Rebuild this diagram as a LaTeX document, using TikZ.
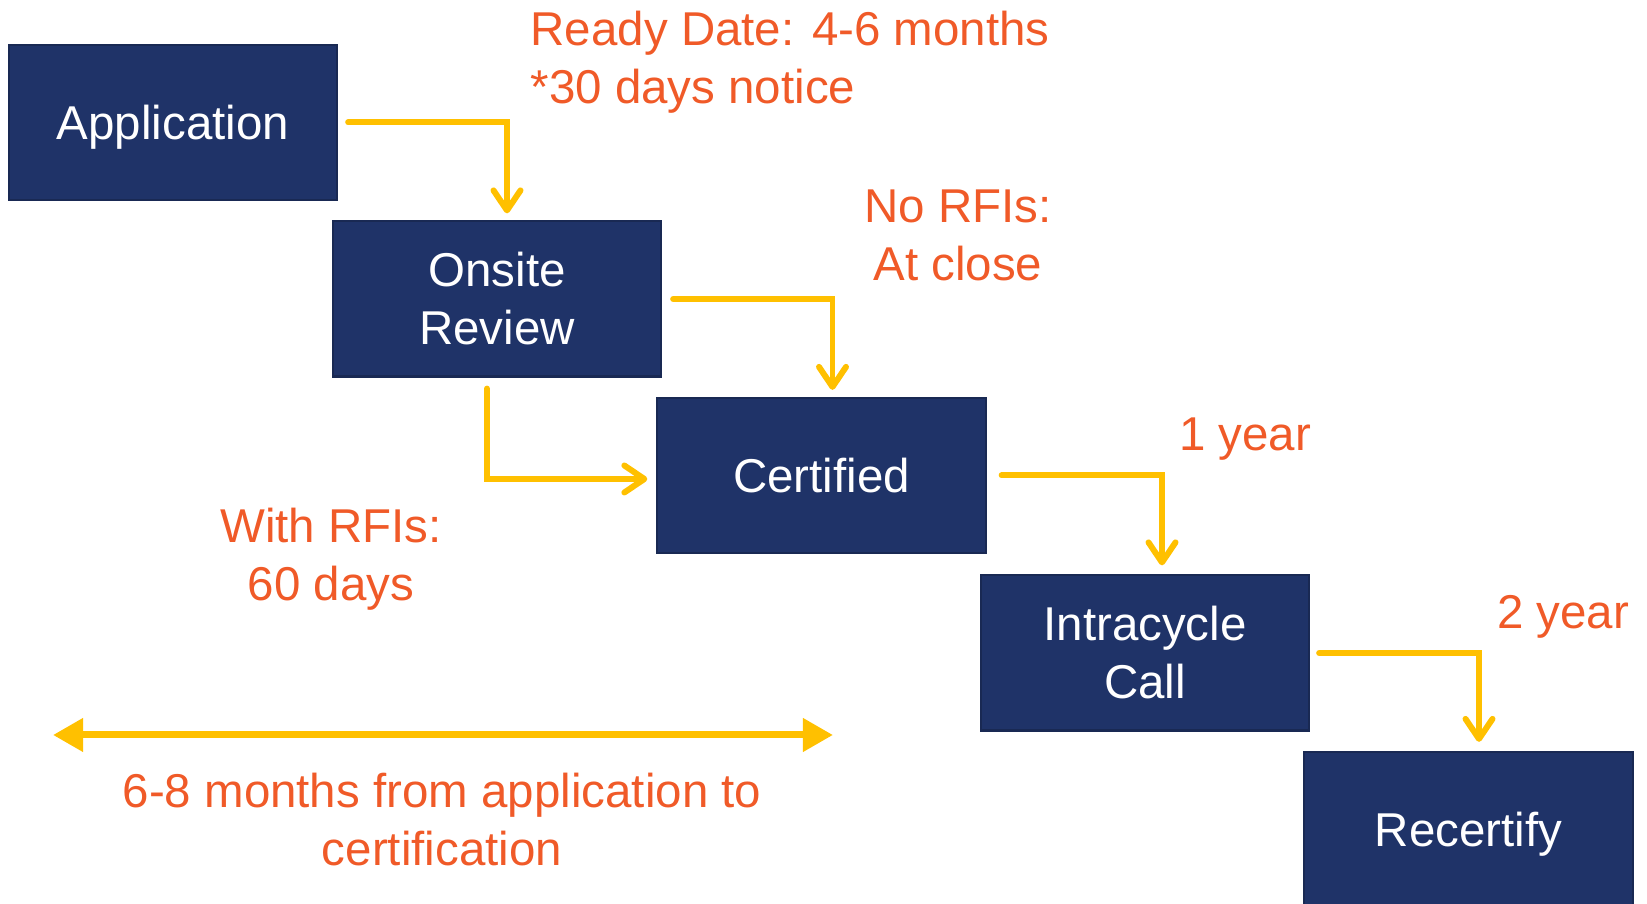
\documentclass[tikz,border=0pt]{standalone}
\usepackage{fontspec}
\setmainfont{Liberation Sans}
\usetikzlibrary{arrows.meta}
\definecolor{navy}{RGB}{31,51,104}
\definecolor{amber}{RGB}{255,192,0}
\definecolor{rust}{RGB}{240,90,40}
\tikzset{
  stage/.style     = {shape=rectangle, draw=navy!80!black, line width=0.6pt,
                      fill=navy, text=white, align=center,
                      minimum width=3.28cm, minimum height=1.55cm},
  oneline/.style   = {stage, text depth=0pt},
  note/.style      = {text=rust, inner sep=0pt},
  steparrow/.style = {draw=amber, line width=1.7pt, line cap=round,
                      -{Straight Barb[length=0.2cm, width=0.27cm, round]}},
  spanarrow/.style = {draw=amber, line width=0.07cm,
                      {Triangle[length=0.3cm, width=0.32cm]}-{Triangle[length=0.3cm, width=0.32cm]}}
}

\begin{document}
\begin{tikzpicture}
        [
            x = 0.01cm, y = -0.01cm,
            every node/.style = {font=\fontsize{13.5}{16.5}\selectfont}
        ]
    \useasboundingbox (0,0) rectangle (1647,904);

    % stages
    \node [oneline] (app)    at (173,122.5)  {Application};
    \node [stage]   (onsite) at (497,299)    {Onsite\\Review};
    \node [oneline] (cert)   at (821.5,475.5) {Certified};
    \node [stage]   (intra)  at (1145,653)   {Intracycle\\Call};
    \node [oneline] (recert) at (1468.5,829.5) {Recertify};

    % connectors
    \draw [steparrow] ([xshift=0.1cm]app.east) -| ([xshift=0.1cm,yshift=0.07cm]onsite.north);
    \draw [steparrow] ([xshift=0.11cm]onsite.east) -| ([xshift=0.11cm,yshift=0.07cm]cert.north);
    \draw [steparrow] ([xshift=-0.1cm,yshift=-0.11cm]onsite.south) |- ([xshift=-0.09cm,yshift=-0.035cm]cert.west);
    \draw [steparrow] ([xshift=0.15cm]cert.east) -| ([xshift=0.17cm,yshift=0.09cm]intra.north);
    \draw [steparrow] ([xshift=0.09cm]intra.east) -| ([xshift=0.105cm,yshift=0.09cm]recert.north);

    \coordinate (spanL) at (53,735);
    \coordinate (spanR) at (833,735);
    \draw [spanarrow] (spanL) -- (spanR);

    % timings
    \node [note, anchor=west, align=left] (ready) at (530,62) {Ready Date: 4-6 months\\*30 days notice};
    \node [note, align=center] (norfi)   at (958,235)  {No RFIs:\\At close};
    \node [note, align=center] (withrfi) at (331,559)  {With RFIs:\\60 days};
    \node [note] (oneyear) at (1245,439) {1 year};
    \node [note] (twoyear) at (1563,617) {2 year};
    \node [note, align=center] (span) at (442,820) {6-8 months from application to\\certification};

\end{tikzpicture}
\end{document}
